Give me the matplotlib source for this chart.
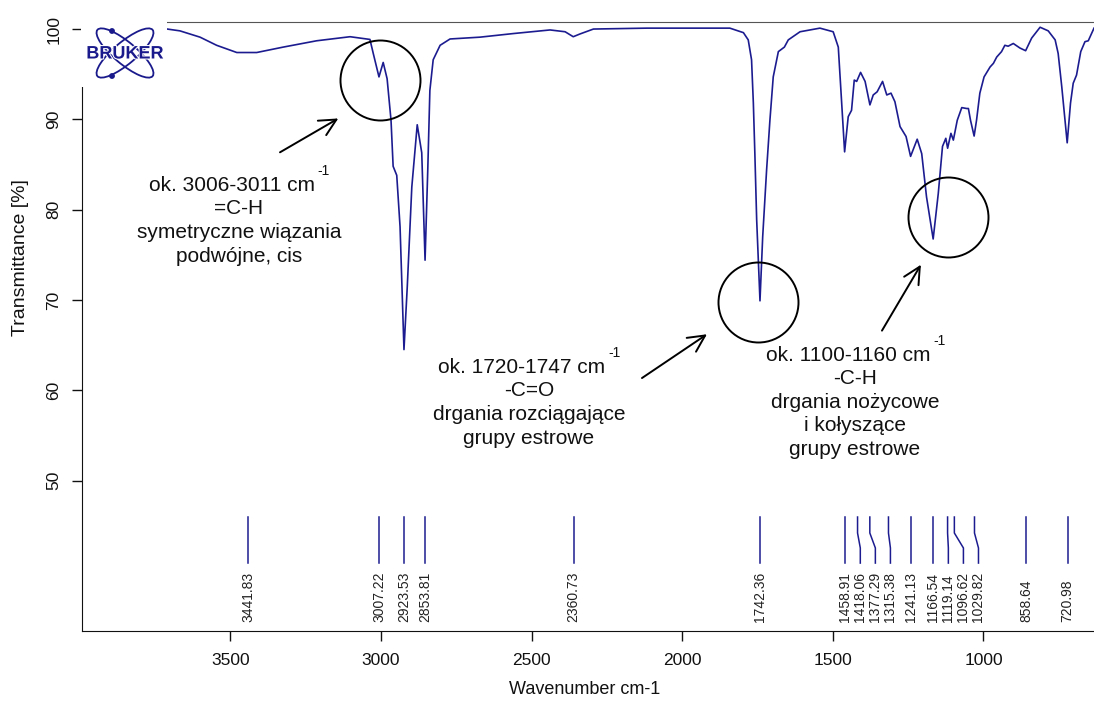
import matplotlib
matplotlib.use("Agg")
import matplotlib.pyplot as plt
import matplotlib.patheffects as pe
from matplotlib.patches import Ellipse, Circle

W, H = 1094, 702
plt.rcParams["font.family"] = ["Liberation Sans", "DejaVu Sans"]

# ---------------------------------------------------------------------------
# Spectrum (wavenumber cm-1, transmittance %)
# ---------------------------------------------------------------------------
wavenumber = [
    3710, 3668, 3601, 3546, 3479, 3413, 3325, 3214, 3103, 3037,
    3026, 3007, 2993, 2980, 2967, 2960, 2948, 2937, 2924, 2913,
    2898, 2880, 2865, 2854, 2845, 2838, 2827, 2804, 2771, 2672,
    2561, 2439, 2389, 2362, 2340, 2295, 2118, 1842, 1797, 1781,
    1770, 1764, 1759, 1753, 1742, 1733, 1720, 1709, 1698, 1681,
    1661, 1648, 1609, 1543, 1499, 1482, 1474, 1461, 1449, 1438,
    1429, 1421, 1408, 1393, 1377, 1366, 1353, 1335, 1321, 1307,
    1294, 1277, 1257, 1242, 1220, 1205, 1189, 1167, 1150, 1136,
    1125, 1119, 1108, 1100, 1087, 1072, 1056, 1050, 1043, 1031,
    1023, 1012, 998, 978, 967, 956, 940, 929, 918, 901,
    879, 860, 840, 812, 785, 762, 752, 740, 722, 711,
    702, 691, 677, 663, 652, 633,
]
transmittance = [
    100.0, 99.8, 99.1, 98.2, 97.4, 97.4, 98.0, 98.7, 99.15, 98.85,
    97.3, 94.7, 96.3, 94.5, 89.9, 84.8, 83.8, 78.1, 64.5, 71.5,
    82.5, 89.4, 86.3, 74.4, 84.4, 93.2, 96.6, 98.2, 98.9, 99.1,
    99.5, 99.9, 99.7, 99.15, 99.45, 100.0, 100.1, 100.1, 99.6, 98.8,
    96.6, 91.8, 86.2, 78.9, 69.9, 77.0, 84.4, 89.9, 94.7, 97.5,
    98.0, 98.8, 99.7, 100.1, 99.7, 98.0, 93.6, 86.4, 90.3, 91.0,
    94.35, 94.2, 95.2, 94.2, 91.6, 92.7, 93.05, 94.2, 92.7, 92.9,
    91.95, 89.2, 88.1, 85.9, 87.8, 86.2, 81.4, 76.75, 81.8, 87.0,
    87.9, 86.8, 88.45, 87.7, 89.9, 91.3, 91.2, 91.2, 89.9, 88.15,
    89.9, 92.9, 94.7, 95.8, 96.2, 96.9, 97.5, 98.2, 98.1, 98.4,
    97.9, 97.6, 99.0, 100.2, 99.8, 98.8, 97.3, 93.6, 87.4, 91.8,
    94.0, 94.9, 97.5, 98.6, 98.7, 100.1,
]

# picked peaks
peak_wn = [3441.83, 3007.22, 2923.53, 2853.81, 2360.73, 1742.36, 1458.91,
           1418.06, 1377.29, 1315.38, 1241.13, 1166.54, 1119.14, 1096.62,
           1029.82, 858.64, 720.98]

x_ticks = [3500, 3000, 2500, 2000, 1500, 1000]
y_ticks = [50, 60, 70, 80, 90, 100]

# band annotations: header line, body lines
note_heads = ["ok. 3006-3011 cm", "ok. 1720-1747 cm", "ok. 1100-1160 cm"]
note_bodies = [
    ["=C-H", "symetryczne wiązania", "podwójne, cis"],
    ["-C=O", "drgania rozciągające", "grupy estrowe"],
    ["-C-H", "drgania nożycowe", "i kołyszące", "grupy estrowe"],
]

CURVE = "#1c1c90"
INK = "#111111"

fig = plt.figure(figsize=(W / 100, H / 100), dpi=100)
ax = fig.add_axes([82 / W, 1 - 630.7 / H, 1012 / W, 608.7 / H])

ax.plot(wavenumber, transmittance, color=CURVE, lw=1.2, solid_joinstyle="round")
ax.set_xlim(3993, 633)
ax.set_ylim(33.37, 100.78)

ax.set_xticks(x_ticks)
ax.set_yticks(y_ticks)
ax.tick_params(direction="out", length=7, width=1, labelsize=12.5, colors=INK)
ax.tick_params(axis="x", pad=9)
ax.tick_params(axis="y", pad=8, labelrotation=90)
for lbl in ax.get_yticklabels():
    lbl.set_va("center")

ax.spines["right"].set_visible(False)
ax.spines["top"].set_color("#555555")
for s in ["left", "bottom"]:
    ax.spines[s].set_color(INK)

fig.text(21 / W, 1 - 258 / H, "Transmittance [%]", rotation=90,
         ha="center", va="center", fontsize=14, color=INK)
fig.text(585 / W, 1 - 690 / H, "Wavenumber cm-1", ha="center", va="center",
         fontsize=13, color=INK)

# --- peak pick lines and labels (crowded labels pushed apart) ---
min_gap = 50
prev = None
for w in peak_wn:
    lx = w if prev is None else min(w, prev - min_gap)
    prev = lx
    ax.plot([w, w, lx, lx], [45.96, 44.19, 42.53, 40.86], color=CURVE, lw=1.1)
    ax.text(lx, 34.33, f"{w:.2f}", rotation=90, ha="center", va="bottom",
            fontsize=10, color="#222222")

# --- annotations: circles, arrows, text ---
circle_at = [(3002.6, 94.4), (1748.7, 69.8), (1117.9, 79.2)]
for cx, cy in circle_at:
    ax.plot(cx, cy, marker="o", ms=57.6, mfc="none", mec="black", mew=1.4,
            ls="none")

arrows = [((3142, 90.1), (3335.6, 86.35)),
          ((1918, 66.2), (2133.8, 61.35)),
          ((1207.7, 73.9), (1337, 66.6))]
for head, tail in arrows:
    ax.annotate("", xy=head, xytext=tail,
                arrowprops=dict(arrowstyle="->,head_length=1.2,head_width=0.6",
                                color="black", lw=1.4, shrinkA=0, shrinkB=0,
                                mutation_scale=10))

note_pos = [(3472, 82.72), (2509, 62.57), (1426.6, 63.9)]
for (nx, ny), head, body in zip(note_pos, note_heads, note_bodies):
    t = ax.text(nx + 23, ny, head, ha="center", va="center", fontsize=15,
                color=INK)
    ax.annotate("-1", xy=(1, 1), xycoords=t, xytext=(2, 3),
                textcoords="offset points", ha="left", va="center",
                fontsize=10, color=INK)
    for i, line in enumerate(body, 1):
        ax.text(nx, ny - 2.62 * i, line, ha="center", va="center",
                fontsize=15, color=INK)

# --- Bruker logo over the top-left corner of the frame ---
lax = fig.add_axes([81 / W, 1 - 87 / H, 86 / W, 69 / H])
lax.set_xlim(0, 86)
lax.set_ylim(0, 69)
lax.set_facecolor("white")
lax.set_xticks([])
lax.set_yticks([])
for s in lax.spines.values():
    s.set_visible(False)
NAVY = "#1a1a8c"
for ang in (40, -40):
    lax.add_patch(Ellipse((44, 34), 72, 22, angle=ang, fill=False,
                          ec=NAVY, lw=1.3))
for dx, dy in [(31, 56), (31, 11)]:
    lax.add_patch(Circle((dx, dy), 2.2, color=NAVY))
lax.text(44, 33, "BRUKER", ha="center", va="center", fontsize=13,
         fontweight="bold", color=NAVY,
         path_effects=[pe.withStroke(linewidth=1.5, foreground="white")])

fig.savefig("out.png", dpi=100)
